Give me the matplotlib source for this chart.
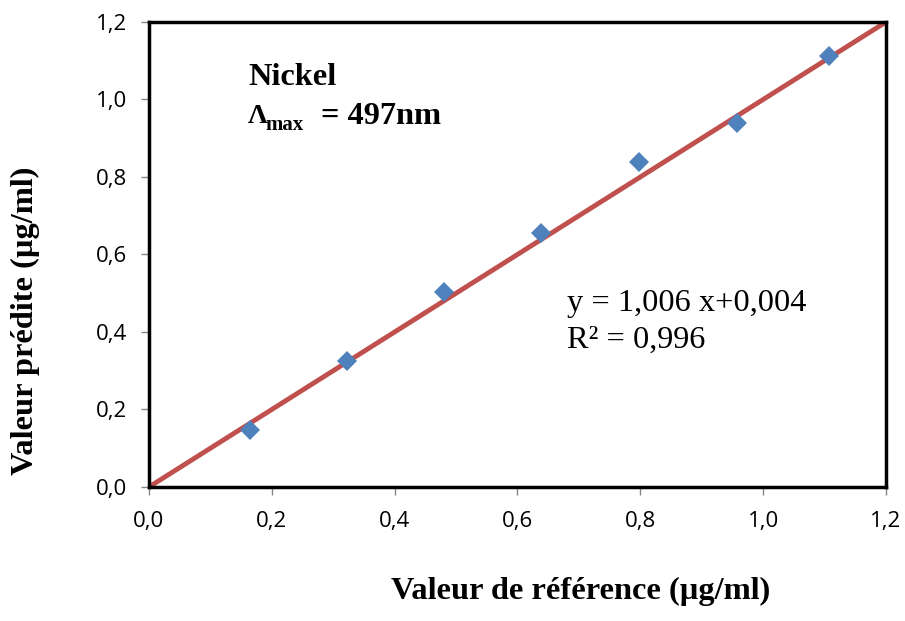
import matplotlib.pyplot as plt

# reference vs predicted concentrations (µg/ml)
ref_vals = [0.164, 0.322, 0.480, 0.638, 0.798, 0.957, 1.107]
pred_vals = [0.147, 0.325, 0.503, 0.655, 0.839, 0.939, 1.112]

# fitted line drawn across the axis range
line_x = [0.0, 1.2]
line_y = [0.0, 1.2]

ticks = [0.0, 0.2, 0.4, 0.6, 0.8, 1.0, 1.2]
tick_labels = ["0,0", "0,2", "0,4", "0,6", "0,8", "1,0", "1,2"]

fig = plt.figure(figsize=(9.05, 6.21), dpi=100)
ax = fig.add_axes([0.1646, 0.2158, 0.8144, 0.7488])

ax.plot(line_x, line_y, color="#C0504D", linewidth=3.5, zorder=2)
ax.plot(ref_vals, pred_vals, linestyle="none", marker="D", markersize=10,
        color="#4F81BD", markeredgewidth=0, zorder=3)

ax.set_xlim(0, 1.2)
ax.set_ylim(0, 1.2)
ax.set_xticks(ticks)
ax.set_xticklabels(tick_labels)
ax.set_yticks(ticks)
ax.set_yticklabels(tick_labels)
ax.tick_params(direction="out", length=6, width=1, color="#868686",
               labelsize=16)
ax.tick_params(axis="x", pad=11)
ax.tick_params(axis="y", pad=10)
for lab in ax.get_xticklabels() + ax.get_yticklabels():
    lab.set_fontfamily("Open Sans")

for s in ax.spines.values():
    s.set_color("black")
    s.set_linewidth(2.5)

serif = "Liberation Serif"
fig.text(0.642, 0.047, "Valeur de référence (µg/ml)", family=serif,
         weight="bold", fontsize=23.3, ha="center", va="center")
fig.text(0.028, 0.484, "Valeur prédite (µg/ml)", family=serif,
         weight="bold", fontsize=23.3, ha="center", va="center", rotation=90)

# annotations inside the plot
fig.text(0.274, 0.875, "Nickel", family=serif, weight="bold", fontsize=23.3,
         ha="left", va="center")
fig.text(0.274, 0.812, "Λ", family=serif, weight="bold", fontsize=20,
         ha="left", va="center")
fig.text(0.293, 0.798, "max", family=serif, weight="bold", fontsize=15,
         ha="left", va="center")
fig.text(0.355, 0.813, "= 497nm", family=serif, weight="bold", fontsize=23.3,
         ha="left", va="center")
fig.text(0.626, 0.512, "y = 1,006 x+0,004", family=serif, fontsize=23.3,
         ha="left", va="center")
fig.text(0.626, 0.452, "R² = 0,996", family=serif, fontsize=23.3,
         ha="left", va="center")

fig.savefig("out.png", dpi=100)
